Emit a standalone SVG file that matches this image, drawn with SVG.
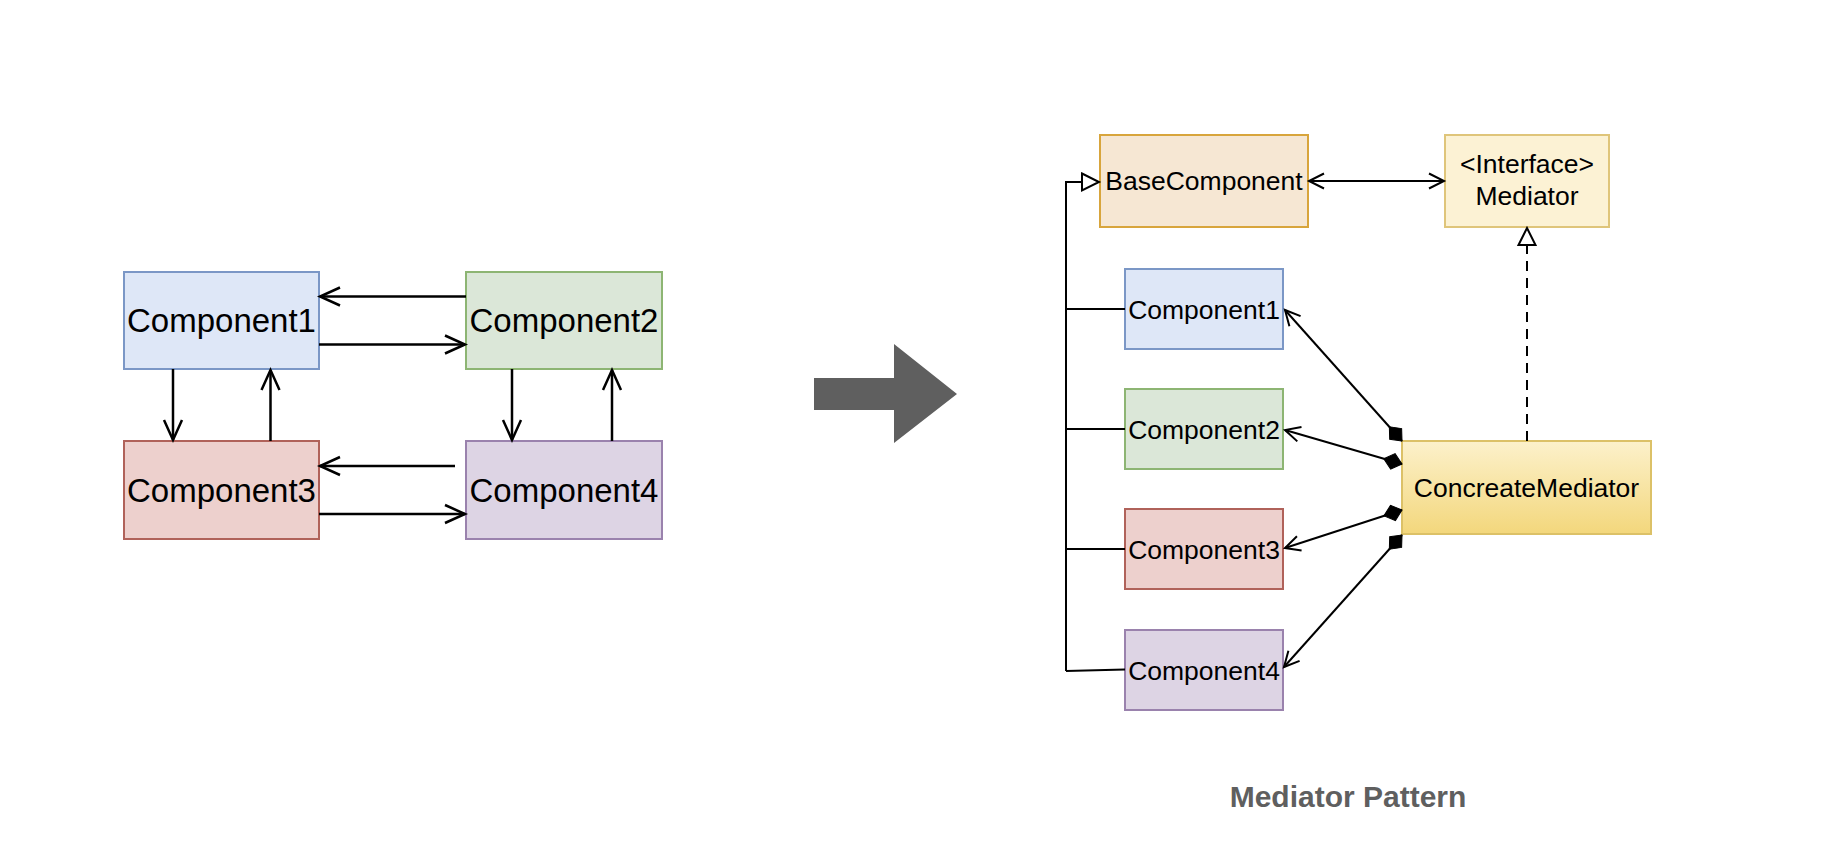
<svg xmlns="http://www.w3.org/2000/svg" width="1830" height="864" viewBox="0 0 1830 864">
<style>
text{font-family:"Liberation Sans",Arial,Helvetica,sans-serif;fill:#000;text-anchor:middle}
.l text{font-size:33px}
.r text{font-size:26.5px}
.ln{fill:none;stroke:#000}
.lw{stroke-width:2.5}
.rw{stroke-width:2}
.bx{stroke-width:2}
</style>
<defs>
<linearGradient id="gy" x1="0" y1="0" x2="0" y2="1"><stop offset="0" stop-color="#fcf1cb"/><stop offset="1" stop-color="#f3d77c"/></linearGradient>
<marker id="oL" markerUnits="userSpaceOnUse" orient="auto" overflow="visible" markerWidth="1" markerHeight="1"><path d="M-20,-9 L0,0 L-20,9" fill="none" stroke="#000" stroke-width="2.5"/></marker>
<marker id="oR" markerUnits="userSpaceOnUse" orient="auto-start-reverse" overflow="visible" markerWidth="1" markerHeight="1"><path d="M-15,-7.5 L0,0 L-15,7.5" fill="none" stroke="#000" stroke-width="2"/></marker>
<marker id="tri" markerUnits="userSpaceOnUse" orient="auto" overflow="visible" markerWidth="1" markerHeight="1"><path d="M-17,-8.5 L0,0 L-17,8.5 Z" fill="#fff" stroke="#000" stroke-width="2"/></marker>
<marker id="dia" markerUnits="userSpaceOnUse" orient="auto" overflow="visible" markerWidth="1" markerHeight="1"><path d="M0,0 L9.5,-8 L19,0 L9.5,8 Z" fill="#000" stroke="#000" stroke-width="1"/></marker>
</defs>
<rect width="1830" height="864" fill="#fff"/>

<g class="l">
<g id="l-c1"><rect x="124" y="272" width="195" height="97" fill="#dee7f7" stroke="#7b97c6" class="bx"/><text x="221.5" y="332">Component1</text></g>
<g id="l-c2"><rect x="466" y="272" width="196" height="97" fill="#dbe7d8" stroke="#8db573" class="bx"/><text x="564" y="332">Component2</text></g>
<g id="l-c3"><rect x="124" y="441" width="195" height="98" fill="#edd0cd" stroke="#b0625a" class="bx"/><text x="221.5" y="502">Component3</text></g>
<g id="l-c4"><rect x="466" y="441" width="196" height="98" fill="#ddd4e4" stroke="#9a82ad" class="bx"/><text x="564" y="502">Component4</text></g>
</g>
<g id="l-connectors" class="ln lw">
<path d="M466,296.5 L320,296.5" marker-end="url(#oL)"/>
<path d="M319,344.5 L465,344.5" marker-end="url(#oL)"/>
<path d="M455,466 L320,466" marker-end="url(#oL)"/>
<path d="M319,514 L465,514" marker-end="url(#oL)"/>
<path d="M173,369 L173,440" marker-end="url(#oL)"/>
<path d="M270.5,441 L270.5,370" marker-end="url(#oL)"/>
<path d="M512,369 L512,440" marker-end="url(#oL)"/>
<path d="M612,441 L612,370" marker-end="url(#oL)"/>
</g>

<g id="big-arrow"><polygon points="814,378 894,378 894,344 957,394 894,443 894,410 814,410" fill="#5f5f5f"/></g>

<g class="r">
<g id="base"><rect x="1100" y="135" width="208" height="92" fill="#f6e7d3" stroke="#d8a53c" class="bx"/><text x="1204" y="190">BaseComponent</text></g>
<g id="mediator"><rect x="1445" y="135" width="164" height="92" fill="#fcf2d4" stroke="#dfc57a" class="bx"/><text x="1527" y="173">&lt;Interface&gt;</text><text x="1527" y="205">Mediator</text></g>
<g id="r-c1"><rect x="1125" y="269" width="158" height="80" fill="#dee7f7" stroke="#7b97c6" class="bx"/><text x="1204" y="318.5">Component1</text></g>
<g id="r-c2"><rect x="1125" y="389" width="158" height="80" fill="#dbe7d8" stroke="#8db573" class="bx"/><text x="1204" y="438.5">Component2</text></g>
<g id="r-c3"><rect x="1125" y="509" width="158" height="80" fill="#edd0cd" stroke="#b0625a" class="bx"/><text x="1204" y="558.5">Component3</text></g>
<g id="r-c4"><rect x="1125" y="630" width="158" height="80" fill="#ddd4e4" stroke="#9a82ad" class="bx"/><text x="1204" y="679.5">Component4</text></g>
<g id="concrete"><rect x="1402" y="441" width="249" height="93" fill="url(#gy)" stroke="#dcc167" class="bx"/><text x="1526.5" y="497">ConcreateMediator</text></g>
</g>
<g id="r-connectors" class="ln rw">
<path d="M1066,671 L1066,182 L1099,182" marker-end="url(#tri)"/>
<path d="M1066,309 L1125,309"/>
<path d="M1066,429 L1125,429"/>
<path d="M1066,549 L1125,549"/>
<path d="M1066,671 L1125,669.5"/>
<path d="M1309,181 L1444,181" marker-start="url(#oR)" marker-end="url(#oR)"/>
<path d="M1527,441 L1527,228" stroke-dasharray="10,7" marker-end="url(#tri)"/>
<path d="M1402,441 L1285,310" marker-start="url(#dia)" marker-end="url(#oR)"/>
<path d="M1402,464 L1285,430" marker-start="url(#dia)" marker-end="url(#oR)"/>
<path d="M1402,510 L1285,548" marker-start="url(#dia)" marker-end="url(#oR)"/>
<path d="M1402,535 L1284,667" marker-start="url(#dia)" marker-end="url(#oR)"/>
</g>

<text x="1348" y="807" style="font-size:30px;font-weight:bold;fill:#5f5f5f">Mediator Pattern</text>
</svg>
